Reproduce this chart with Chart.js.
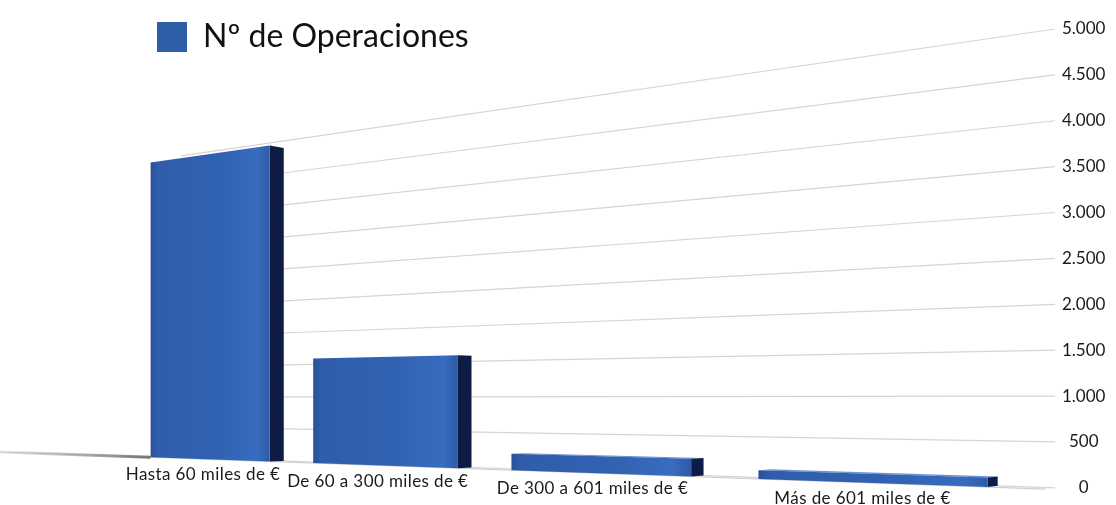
<!DOCTYPE html>
<html>
<head>
<meta charset="utf-8">
<script src="https://cdn.jsdelivr.net/npm/chart.js@4.4.1/dist/chart.umd.min.js"></script>
<style>
html,body{margin:0;padding:0;background:#ffffff;}
#wrap{position:relative;width:1116px;height:505px;}
</style>
</head>
<body>
<div id="wrap"><canvas id="c"></canvas></div>
<script>
// ---------- data ----------
const categories = ['Hasta 60 miles de €', 'De 60 a 300 miles de €', 'De 300 a 601 miles de €', 'Más de 601 miles de €'];
const seriesName = 'Nº de Operaciones';
const operaciones = [4890, 1580, 222, 105];
const axisMin = 0;
const axisMax = 5000;
const axisStep = 500;

// ---------- perspective view settings (style, not data) ----------
const VIEW = {
  horizonY: 399,   // eye level on screen
  vanish: 2550,    // distance to vanishing point (depth units)
  depth: 0.014,    // how far the bar fronts stand out of the wall
  tan2: 0.26,      // squared tangent of wall rotation
  qGap: 15,        // gap between wall end and last category
  qSpan: 1396,     // total depth span of the category band
  wallEnd: 1330,   // how far gridlines run back
  floorEnd: 1820   // how far the floor edge runs back
};
const AXIS_WIDTH = 61;

function thousands(v) {
  return String(v).replace(/\B(?=(\d{3})+(?!\d))/g, '.');
}

function makeProjector(chart) {
  const ca = chart.chartArea;
  const k = VIEW.qSpan / (ca.right - ca.left);
  const A = VIEW.depth * VIEW.vanish * VIEW.tan2;
  const toQ = x => VIEW.qGap + (ca.right - x) * k;
  const proj = (q, yf, front) => {
    const e = front ? VIEW.depth : 0;
    const S = 1 / (1 + q / VIEW.vanish - e);
    return { x: ca.right - (q + (front ? A : 0)) * S, y: VIEW.horizonY + (yf - VIEW.horizonY) * S };
  };
  return { k, toQ, proj };
}

function quad(ctx, pts, fill) {
  ctx.beginPath();
  ctx.moveTo(pts[0].x, pts[0].y);
  for (let i = 1; i < pts.length; i++) ctx.lineTo(pts[i].x, pts[i].y);
  ctx.closePath();
  ctx.fillStyle = fill;
  ctx.fill();
}

const perspectivePlugin = {
  id: 'perspective',
  beforeDatasetsDraw(chart) {
    const ctx = chart.ctx;
    const ys = chart.scales.y;
    const P = makeProjector(chart);
    ctx.save();

    // wall gridlines from the y scale ticks
    ctx.lineWidth = 1.2;
    ctx.strokeStyle = '#dbd3cf';
    ys.ticks.forEach(t => {
      const yf = ys.getPixelForValue(t.value);
      const a = P.proj(0, yf, false);
      const b = P.proj(VIEW.wallEnd, yf, false);
      ctx.beginPath();
      ctx.moveTo(a.x, a.y);
      ctx.lineTo(b.x, b.y);
      ctx.stroke();
    });

    // floor edge at value 0 (front plane)
    const y0 = ys.getPixelForValue(axisMin);
    const f0 = P.proj(0, y0, true);
    const f1 = P.proj(VIEW.floorEnd, y0, true);
    ctx.strokeStyle = '#cfcfcf';
    ctx.lineWidth = 1.2;
    ctx.beginPath();
    ctx.moveTo(f0.x, f0.y);
    ctx.lineTo(f1.x, f1.y);
    ctx.stroke();

    const meta = chart.getDatasetMeta(0);
    // shadow on floor left of first bar
    if (meta.data.length) {
      const b0 = meta.data[0].getProps(['x', 'width'], true);
      const qStart = P.toQ(b0.x) + b0.width * P.k / 2;
      const s0 = P.proj(qStart, y0, true);
      const g = ctx.createLinearGradient(f1.x, 0, s0.x, 0);
      g.addColorStop(0, 'rgba(150,150,150,0)');
      g.addColorStop(0.5, 'rgba(150,150,150,0.6)');
      g.addColorStop(1, 'rgba(110,110,110,0.95)');
      ctx.strokeStyle = g;
      ctx.lineWidth = 3;
      ctx.beginPath();
      ctx.moveTo(f1.x, f1.y);
      ctx.lineTo(s0.x, s0.y);
      ctx.stroke();
    }

    // bars
    meta.data.forEach((bar, i) => {
      const p = bar.getProps(['x', 'y', 'base', 'width'], true);
      const qc = P.toQ(p.x);
      const hw = p.width * P.k / 2;
      const qL = qc + hw, qR = qc - hw;
      const fTL = P.proj(qL, p.y, true), fTR = P.proj(qR, p.y, true);
      const fBR = P.proj(qR, p.base, true), fBL = P.proj(qL, p.base, true);
      const bTR = P.proj(qR, p.y, false), bBR = P.proj(qR, p.base, false);
      const bTL = P.proj(qL, p.y, false);

      if (p.y > VIEW.horizonY) {
        quad(ctx, [fTL, fTR, bTR, bTL], '#6a93d6');
      }
      // side face
      quad(ctx, [fTR, bTR, bBR, fBR], '#0d1b45');
      // front face
      const g = ctx.createLinearGradient(fTL.x, 0, fTR.x, 0);
      g.addColorStop(0, '#2a519a');
      g.addColorStop(0.06, '#2f5dab');
      g.addColorStop(0.55, '#3162b1');
      g.addColorStop(0.9, '#386cbf');
      g.addColorStop(1, '#2d5aa6');
      quad(ctx, [fTL, fTR, fBR, fBL], g);

      // category label
      const bc = P.proj(qc, p.base, true);
      ctx.fillStyle = '#1a1a1a';
      ctx.font = '17px Lato';
      ctx.letterSpacing = '0.4px';
      ctx.textAlign = 'center';
      ctx.textBaseline = 'top';
      ctx.fillText(chart.data.labels[i], bc.x - 5, bc.y + 7);
    });

    ctx.restore();
    return false;
  }
};

Chart.defaults.font.family = 'Lato';

new Chart(document.getElementById('c'), {
  type: 'bar',
  data: {
    labels: categories,
    datasets: [{
      label: seriesName,
      data: operaciones,
      backgroundColor: '#2f5ea9',
      borderWidth: 0,
      barPercentage: 0.75,
      categoryPercentage: 1.0
    }]
  },
  options: {
    responsive: true,
    maintainAspectRatio: false,
    animation: false,
    layout: { padding: { left: 136, right: 0, top: 29, bottom: 17 } },
    scales: {
      x: { display: false },
      y: {
        position: 'right',
        min: axisMin,
        max: axisMax,
        grid: { display: false, drawTicks: false },
        border: { display: false },
        afterFit: scale => { scale.width = AXIS_WIDTH; },
        ticks: {
          stepSize: axisStep,
          padding: 7,
          crossAlign: 'center',
          color: '#1a1a1a',
          font: { family: 'Lato', size: 17 },
          callback: v => thousands(v)
        }
      }
    },
    plugins: {
      tooltip: { enabled: false },
      legend: {
        position: 'chartArea',
        align: 'start',
        labels: {
          boxWidth: 30,
          boxHeight: 30,
          padding: 21,
          color: '#111111',
          font: { family: 'Lato', size: 32 }
        }
      }
    }
  },
  plugins: [perspectivePlugin]
});
</script>
</body>
</html>
